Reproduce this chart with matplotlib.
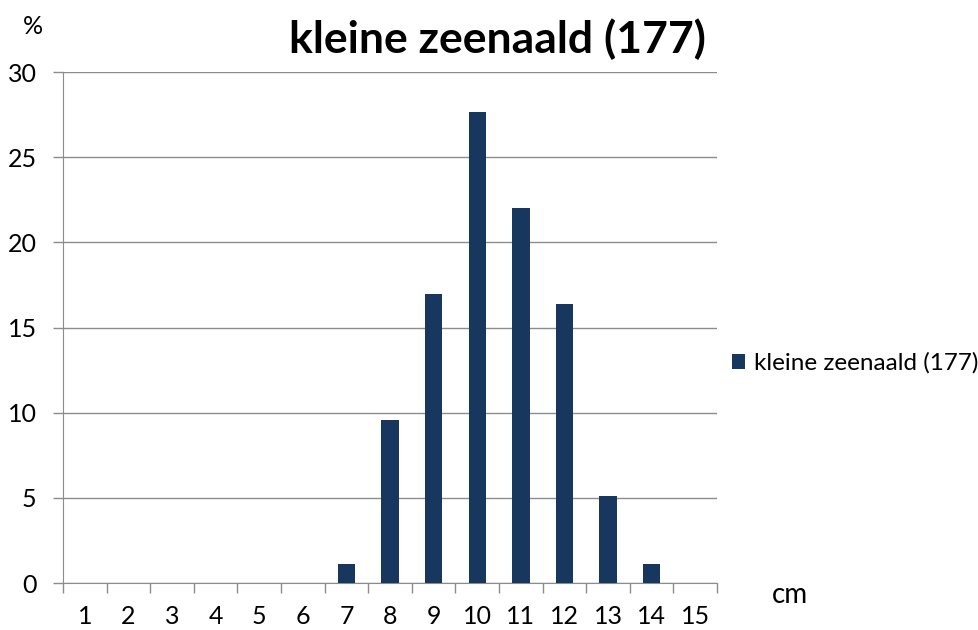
import matplotlib.pyplot as plt
import numpy as np

plt.rcParams['font.family'] = ['Lato', 'DejaVu Sans']

lengths = [1, 2, 3, 4, 5, 6, 7, 8, 9, 10, 11, 12, 13, 14, 15]
percent = [0, 0, 0, 0, 0, 0, 1.13, 9.6, 16.95, 27.68, 22.03, 16.38, 5.08, 1.13, 0]
label = 'kleine zeenaald (177)'

fig = plt.figure(figsize=(9.79, 6.30), dpi=100)
ax = fig.add_axes([0.0644, 0.0746, 0.668, 0.811])

x = np.arange(len(lengths))
ax.bar(x, percent, width=0.4, color='#17375E', label=label, zorder=3)

ax.set_xlim(-0.5, len(lengths) - 0.5)
ax.set_ylim(0, 30)
ax.set_yticks([0, 5, 10, 15, 20, 25, 30])
ax.yaxis.grid(True, color='#8c8c8c', linewidth=1)
ax.set_axisbelow(True)

# category ticks on the boundaries, labels in the middle
ax.set_xticks(np.arange(-0.5, len(lengths)), minor=False)
ax.set_xticklabels([])
ax.set_xticks(x, minor=True)
ax.set_xticklabels([str(v) for v in lengths], minor=True)
ax.tick_params(axis='x', which='major', length=7, color='#8c8c8c', width=1)
ax.tick_params(axis='x', which='minor', length=0, pad=16, labelsize=18)
ax.tick_params(axis='y', length=7, color='#8c8c8c', width=1, pad=12, labelsize=18)

for s in ['top', 'right']:
    ax.spines[s].set_visible(False)
for s in ['left', 'bottom']:
    ax.spines[s].set_color('#8c8c8c')

fig.text(0.508, 0.937, label, fontsize=32, fontweight='bold', ha='center', va='center')
fig.text(0.034, 0.958, '%', fontsize=18, ha='center', va='center')
fig.text(0.807, 0.055, 'cm', fontsize=20, ha='center', va='center')

ax.legend(loc='center left', bbox_to_anchor=(0.99, 0.43), frameon=False,
          fontsize=17.5, handlelength=0.5, handleheight=0.6, handletextpad=0.4)

fig.savefig('out.png', dpi=100)
